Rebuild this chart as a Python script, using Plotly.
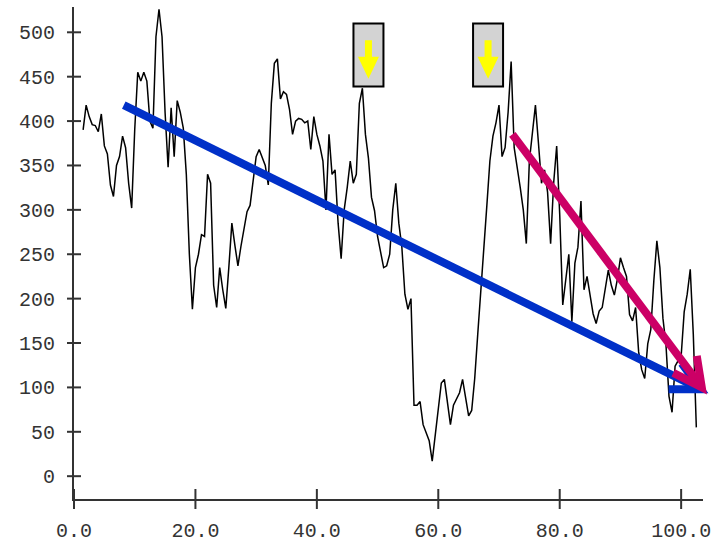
import math
import plotly.graph_objects as go

# ---- series: sampled every 0.5 starting at x = 1.5 ----
X_START = 1.5
X_STEP = 0.5
values = [
    390, 418, 405, 396, 395, 388, 408, 372, 363, 328,
    315, 350, 360, 383, 370, 330, 302, 390, 455, 445,
    455, 445, 400, 392, 495, 526, 495, 410, 348, 415,
    360, 423, 410, 392, 340, 250, 188, 235, 250, 272,
    270, 340, 330, 215, 190, 235, 210, 189, 235, 285,
    260, 237, 259, 280, 298, 305, 330, 360, 368, 358,
    350, 328, 420, 465, 470, 425, 433, 430, 413, 385,
    400, 403, 402, 398, 400, 368, 405, 385, 372, 355,
    300, 385, 340, 345, 285, 245, 300, 325, 355, 330,
    340, 420, 437, 385, 358, 314, 299, 270, 254, 235,
    237, 250, 300, 330, 285, 258, 205, 188, 200, 80,
    80, 84, 58, 48, 40, 17, 45, 75, 105, 109,
    80, 58, 80, 87, 94, 109, 90, 68, 74, 110,
    160, 212, 265, 305, 355, 383, 398, 418, 360, 370,
    410, 467, 370, 350, 325, 300, 262, 355, 385, 418,
    375, 330, 345, 320, 262, 330, 372, 295, 193, 225,
    250, 174, 240, 258, 310, 210, 225, 204, 183, 172,
    186, 190, 210, 232, 215, 204, 222, 246, 235, 225,
    182, 175, 190, 140, 120, 110, 149, 165, 220, 265,
    235, 178, 148, 90, 72, 124, 130, 135, 185, 205,
    233, 160, 55,
]
x_vals = [X_START + X_STEP * i for i in range(len(values))]

# ---- axes ----
x_tickvals = [0, 20, 40, 60, 80, 100]
x_ticktext = ["0.0", "20.0", "40.0", "60.0", "80.0", "100.0"]
y_tickvals = [0, 50, 100, 150, 200, 250, 300, 350, 400, 450, 500]
y_ticktext = [str(v) for v in y_tickvals]

# ---- trend arrows: (x_start, y_start, x_end, y_end) ----
long_trend = (8.2, 418, 103.2, 98)
short_trend = (72.2, 385, 103.4, 100)

# ---- peak markers (box centre x) ----
marker_x = [48.5, 68.2]
marker_y_bottom = 439
marker_y_top = 510

# ---- layout geometry ----
W, H = 727, 550
M_L, M_R, M_T, M_B = 74, 24, 7, 37
X_RANGE = [0, 103.6]
Y_RANGE = [-25.7, 528.5]
kx = (W - M_L - M_R) / (X_RANGE[1] - X_RANGE[0])
ky = (H - M_T - M_B) / (Y_RANGE[1] - Y_RANGE[0])


def x_frac(v):
    return (v - X_RANGE[0]) / (X_RANGE[1] - X_RANGE[0])


def y_frac(v):
    return (v - Y_RANGE[0]) / (Y_RANGE[1] - Y_RANGE[0])


AXIS_COLOR = "#333333"
FONT = dict(family="Liberation Mono, Courier New, monospace", size=20, color="#333333")

fig = go.Figure()
fig.add_trace(go.Scatter(
    x=x_vals, y=values, mode="lines",
    line=dict(color="black", width=1.5),
    hoverinfo="skip", showlegend=False,
))


def arrow_shapes(seg, color, width=8, head_len=32, half_angle=27):
    x0, y0, x1, y1 = seg
    shapes = [dict(type="line", xref="x", yref="y", x0=x0, y0=y0, x1=x1, y1=y1,
                   line=dict(color=color, width=width))]
    ang = math.atan2((y1 - y0) * ky, (x1 - x0) * kx)
    back = ang + math.pi
    pts = []
    for s in (1, -1):
        a = back + s * math.radians(half_angle)
        pts.append((head_len * math.cos(a), head_len * math.sin(a)))
    path = "M {:.2f},{:.2f} L 0,0 L {:.2f},{:.2f}".format(pts[0][0], pts[0][1], pts[1][0], pts[1][1])
    # paper-referenced anchor so the head is not clipped at the plot edge
    shapes.append(dict(type="path", xref="paper", yref="paper",
                       xsizemode="pixel", ysizemode="pixel",
                       xanchor=x_frac(x1), yanchor=y_frac(y1),
                       path=path, line=dict(color=color, width=width)))
    return shapes


shapes = []

# tick marks that cross the axis lines
for v in x_tickvals:
    shapes.append(dict(type="line", xref="paper", yref="paper", layer="above",
                       ysizemode="pixel", yanchor=0, y0=-10, y1=10,
                       x0=x_frac(v), x1=x_frac(v), line=dict(color=AXIS_COLOR, width=2)))
for v in y_tickvals:
    shapes.append(dict(type="line", xref="paper", yref="paper", layer="above",
                       xsizemode="pixel", xanchor=0, x0=-7, x1=7,
                       y0=y_frac(v), y1=y_frac(v), line=dict(color=AXIS_COLOR, width=2)))

shapes += arrow_shapes(long_trend, "#0030c8")
shapes += arrow_shapes(short_trend, "#cc0066")

for cx in marker_x:
    shapes.append(dict(type="rect", xref="x", yref="y",
                       xsizemode="pixel", xanchor=cx, x0=-15, x1=15,
                       y0=marker_y_bottom, y1=marker_y_top,
                       fillcolor="#d3d3d3", line=dict(color="black", width=2)))
    yc = (marker_y_bottom + marker_y_top) / 2
    shapes.append(dict(type="path", xref="x", yref="y",
                       xsizemode="pixel", ysizemode="pixel", xanchor=cx, yanchor=yc,
                       path="M -3.5,14.6 L 3.5,14.6 L 3.5,-1.7 L 10.5,-1.7 L 0,-23.7 "
                            "L -10.5,-1.7 L -3.5,-1.7 Z",
                       fillcolor="#ffff00", line=dict(width=0)))

fig.update_layout(
    width=W, height=H,
    margin=dict(l=M_L, r=M_R, t=M_T, b=M_B, pad=0),
    paper_bgcolor="white", plot_bgcolor="white",
    font=FONT,
    shapes=shapes,
    xaxis=dict(range=X_RANGE, tickvals=x_tickvals, ticktext=x_ticktext,
               showgrid=False, zeroline=False, showline=True,
               linecolor=AXIS_COLOR, linewidth=2,
               ticks="outside", ticklen=10, tickwidth=2, tickcolor="rgba(0,0,0,0)",
               ticklabelstandoff=2, tickfont=FONT),
    yaxis=dict(range=Y_RANGE, tickvals=y_tickvals, ticktext=y_ticktext,
               showgrid=False, zeroline=False, showline=True,
               linecolor=AXIS_COLOR, linewidth=2,
               ticks="outside", ticklen=7, tickwidth=2, tickcolor="rgba(0,0,0,0)",
               ticklabelstandoff=6, tickfont=FONT),
)

fig.write_html("out.html")
